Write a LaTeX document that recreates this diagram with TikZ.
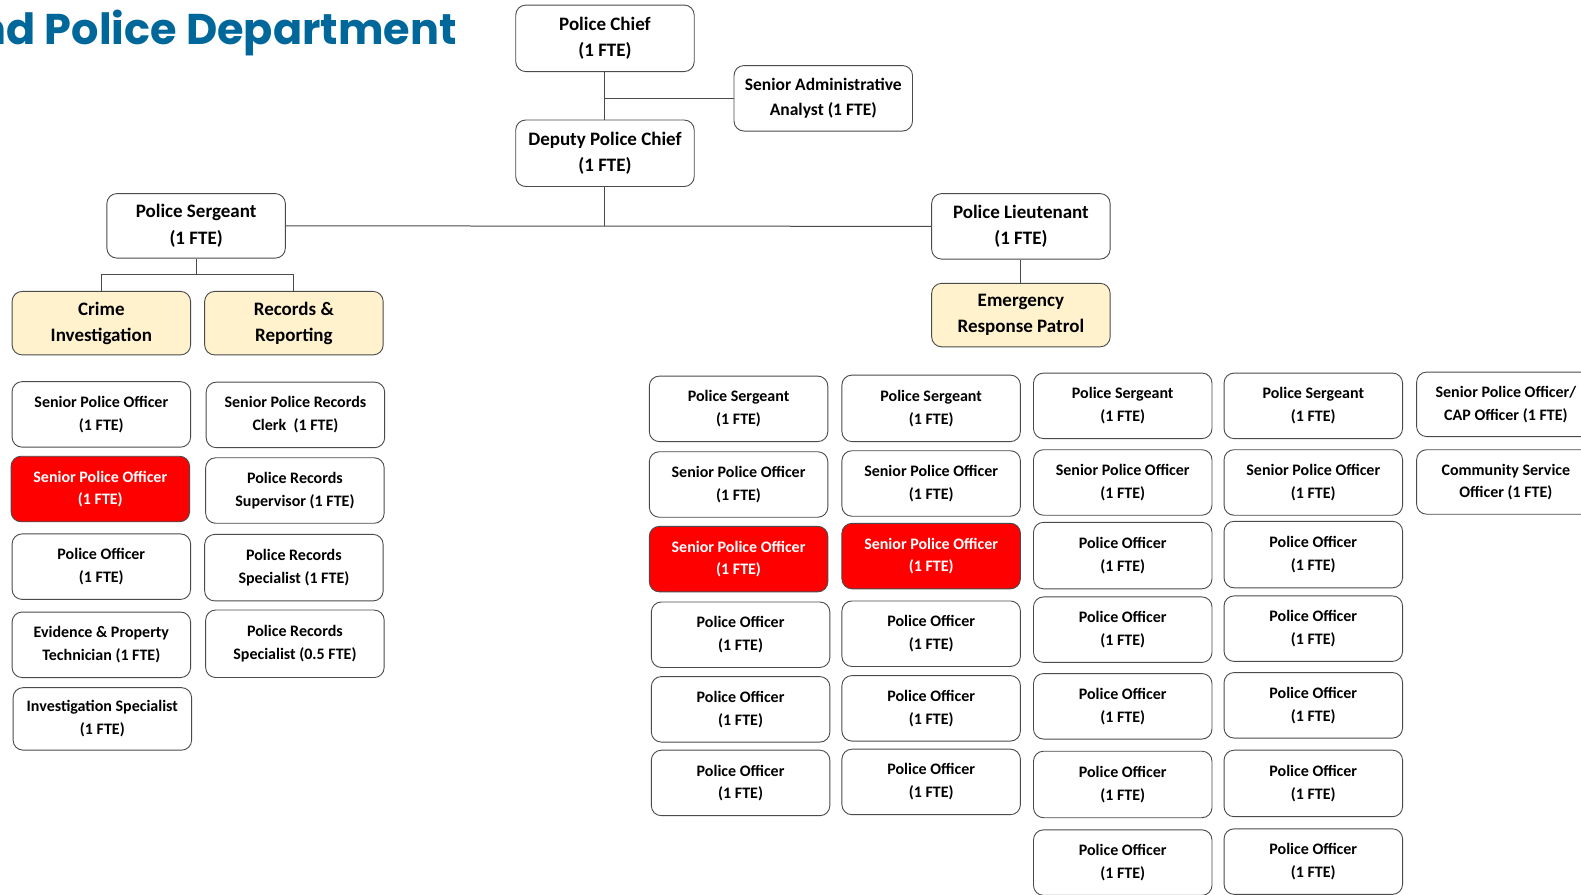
\documentclass[tikz,border=0pt]{standalone}
\usepackage{fontspec}
\setmainfont{Carlito}
\newfontfamily\titlefont{Poppins}
\definecolor{titleblue}{HTML}{00679A}
\definecolor{boxline}{HTML}{4A4A4A}
\definecolor{unitfill}{HTML}{FFF2CC}
\definecolor{hired}{HTML}{FF0000}
\begin{document}
\begin{tikzpicture}[x=1.0083pt,y=-1.0083pt,
  box/.style={draw=boxline, line width=0.9pt, rounded corners=10pt, fill=white,
    minimum width=178.5pt, minimum height=65.5pt, inner sep=0pt, align=center,
    font=\bfseries\fontsize{16}{22.7}\selectfont, text=black},
  bigbox/.style={box, font=\bfseries\fontsize{19}{26.2}\selectfont},
  unitbox/.style={bigbox, fill=unitfill, minimum height=63.5pt},
  redbox/.style={box, fill=hired, text=white},
  link/.style={draw=boxline, line width=1pt}]
\useasboundingbox (0,0) rectangle (1568,887.6);
\fill[white] (0,0) rectangle (1568,887.6);

\node[anchor=base east, font=\titlefont\bfseries\fontsize{43}{50}\selectfont, text=titleblue, inner sep=0pt] (title) at (453,44) {nd Police Department};

% top
\node[bigbox, minimum height=66.5pt] (chief) at (600,38) {Police Chief\\(1 FTE)};
\node[box, font=\bfseries\fontsize{17.5}{24.2}\selectfont] (analyst) at (816.5,97.5) {Senior Administrative\\Analyst (1 FTE)};
\node[bigbox, minimum height=66.5pt] (deputy) at (600,152) {Deputy Police Chief\\(1 FTE)};
\node[bigbox, minimum height=64.5pt] (sgt) at (194.5,224) {Police Sergeant\\(1 FTE)};
\node[bigbox] (lt) at (1012.5,224.5) {Police Lieutenant\\(1 FTE)};
\node[unitbox] (crime) at (100.5,320.5) {Crime\\Investigation};
\node[unitbox] (records) at (291.5,320.5) {Records \&\\Reporting};
\node[unitbox] (erp) at (1012.5,312.5) {Emergency\\Response Patrol};

\coordinate (sj) at (194.5,272);
\draw[link] (chief.south) -- (deputy.north);
\draw[link] (chief.south |- analyst.west) -- (analyst.west);
\draw[link] (deputy.south) -- (deputy.south |- sgt.east);
\draw[link] (sgt.east) -- (lt.west);
\draw[link] (sgt.south) -- (sj);
\draw[link] (crime.north) |- (sj) -| (records.north);
\draw[link] (lt.south) -- (erp.north);

% crime investigation column
\node[box] (c1) at (100.5,411) {Senior Police Officer\\(1 FTE)};
\node[redbox] (c2) at (99.5,485) {Senior Police Officer\\(1 FTE)};
\node[box] (c3) at (100.5,562) {Police Officer\\(1 FTE)};
\node[box] (c4) at (100.5,639.5) {Evidence \& Property\\Technician (1 FTE)};
\node[box, minimum height=62.5pt] (c5) at (101.5,713) {Investigation Specialist\\(1 FTE)};

% records column
\node[box] (r1) at (293,411.5) {Senior Police Records\\Clerk\ \ (1 FTE)};
\node[box] (r2) at (292.5,486.5) {Police Records\\Supervisor (1 FTE)};
\node[box, minimum height=66.5pt] (r3) at (291.5,563) {Police Records\\Specialist (1 FTE)};
\node[box, minimum height=67.5pt] (r4) at (292.5,638.5) {Police Records\\Specialist (0.5 FTE)};

% patrol column A
\node[box] (a1) at (732.5,405.5) {Police Sergeant\\(1 FTE)};
\node[box] (a2) at (732.5,480.5) {Senior Police Officer\\(1 FTE)};
\node[redbox] (a3) at (732.5,554.5) {Senior Police Officer\\(1 FTE)};
\node[box] (a4) at (734.5,629.5) {Police Officer\\(1 FTE)};
\node[box] (a5) at (734.5,703.5) {Police Officer\\(1 FTE)};
\node[box] (a6) at (734.5,776.5) {Police Officer\\(1 FTE)};

% patrol column B
\node[box, minimum height=66.5pt] (b1) at (923.5,405) {Police Sergeant\\(1 FTE)};
\node[box] (b2) at (923.5,479.5) {Senior Police Officer\\(1 FTE)};
\node[redbox] (b3) at (923.5,551.5) {Senior Police Officer\\(1 FTE)};
\node[box] (b4) at (923.5,628.5) {Police Officer\\(1 FTE)};
\node[box] (b5) at (923.5,702.5) {Police Officer\\(1 FTE)};
\node[box] (b6) at (923.5,775.5) {Police Officer\\(1 FTE)};

% patrol column C
\node[box] (d1) at (1113.5,402.5) {Police Sergeant\\(1 FTE)};
\node[box] (d2) at (1113.5,478.5) {Senior Police Officer\\(1 FTE)};
\node[box, minimum height=66.5pt] (d3) at (1113.5,551) {Police Officer\\(1 FTE)};
\node[box] (d4) at (1113.5,624.5) {Police Officer\\(1 FTE)};
\node[box] (d5) at (1113.5,700.5) {Police Officer\\(1 FTE)};
\node[box, minimum height=66.5pt] (d6) at (1113.5,778) {Police Officer\\(1 FTE)};
\node[box] (d7) at (1113.5,855.5) {Police Officer\\(1 FTE)};

% patrol column D
\node[box] (e1) at (1302.5,402.5) {Police Sergeant\\(1 FTE)};
\node[box] (e2) at (1302.5,478.5) {Senior Police Officer\\(1 FTE)};
\node[box, minimum height=66.5pt] (e3) at (1302.5,550) {Police Officer\\(1 FTE)};
\node[box] (e4) at (1302.5,623.5) {Police Officer\\(1 FTE)};
\node[box] (e5) at (1302.5,699.5) {Police Officer\\(1 FTE)};
\node[box, minimum height=66.5pt] (e6) at (1302.5,777) {Police Officer\\(1 FTE)};
\node[box] (e7) at (1302.5,854.5) {Police Officer\\(1 FTE)};

% column E
\node[box, minimum height=64.5pt] (f1) at (1493.5,401) {Senior Police Officer/\\CAP Officer (1 FTE)};
\node[box, minimum height=64.5pt] (f2) at (1493.5,478) {Community Service\\Officer (1 FTE)};
\end{tikzpicture}
\end{document}
